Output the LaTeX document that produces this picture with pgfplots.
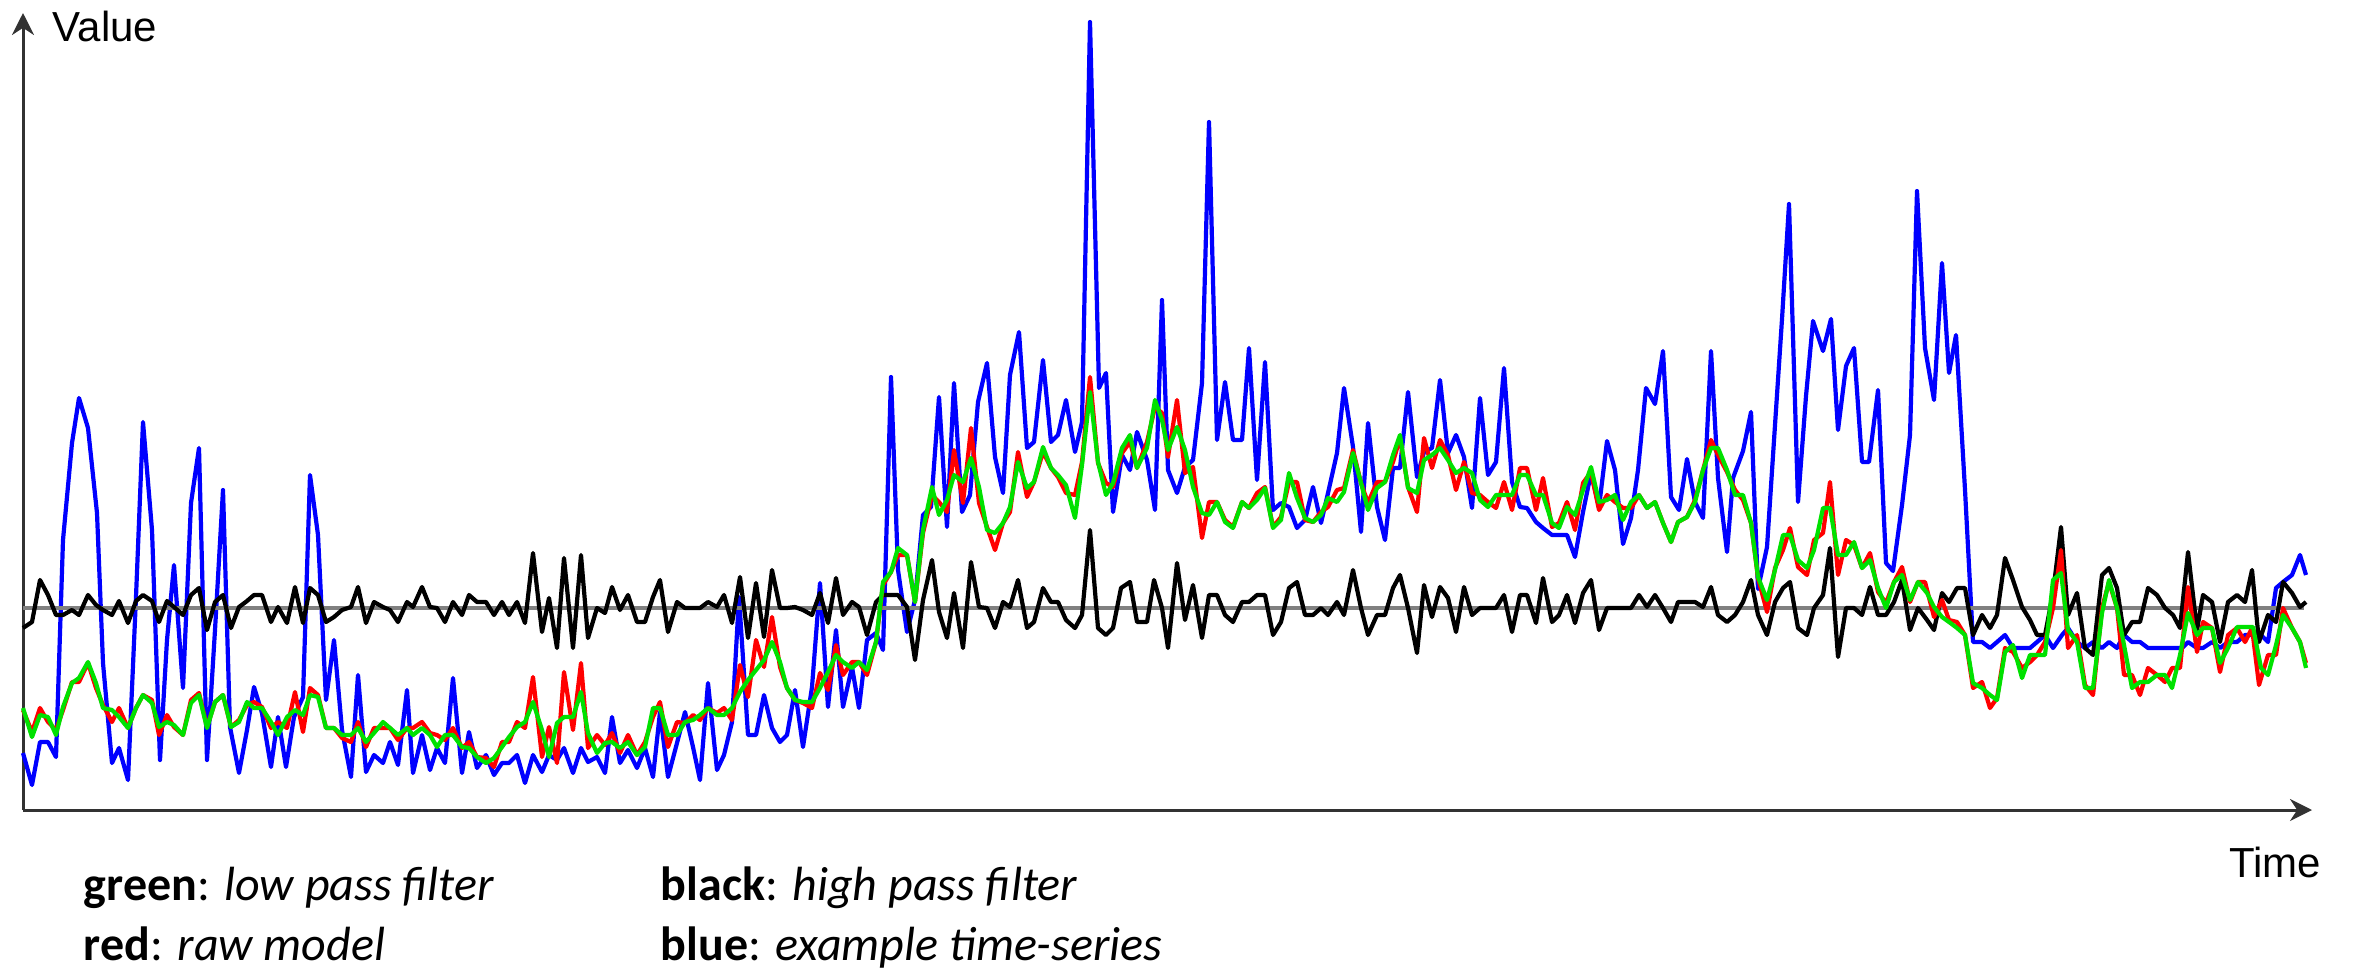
\documentclass[border=0pt]{standalone}
\usepackage{pgfplots}
\pgfplotsset{compat=1.18}
\usepackage{fontspec}
\setmainfont{Carlito}
\newfontfamily\labelfont{Liberation Sans}
\usetikzlibrary{arrows.meta}
\definecolor{sblue}{RGB}{0,0,255}
\definecolor{sred}{RGB}{255,0,0}
\definecolor{sgreen}{RGB}{0,225,0}
\definecolor{sgray}{RGB}{128,128,128}
\definecolor{axgray}{RGB}{50,50,50}
\begin{document}
\begin{tikzpicture}[x=0.25pt,y=0.25pt]
\path (0,0) rectangle (2356,979);
\begin{axis}[at={(5.75pt,42.25pt)}, anchor=south west, x=0.25pt, y=0.25pt,
  xmin=23, xmax=2310, ymin=0, ymax=795, hide axis, clip=false,
  every axis plot/.append style={line width=1.05pt, line join=round, mark=none}]
\draw[axgray, line width=0.75pt, -{Stealth[length=5.5pt,width=5.5pt]}] (axis cs:23,0) -- (axis cs:23,797);
\draw[axgray, line width=0.75pt, -{Stealth[length=5.5pt,width=5.5pt]}] (axis cs:23,0) -- (axis cs:2312,0);
% blue: example time-series
\addplot[sblue] coordinates {
(23,57) (32,25) (40,68) (48,68) (56,53) (63,270) (72,367) (79,412) (88,382) (97,297) (103,147) (112,47) (119,62) (128,30) (136,213) (143,388) (152,280) (160,50) (167,170) (174,245) (183,122) (191,307) (199,362) (207,50) (215,180) (223,320) (230,83) (239,37) (247,80) (254,123) (262,97) (271,43) (278,93) (286,43) (294,93) (303,113) (310,335) (318,275) (326,110) (334,170) (342,80) (351,33) (358,135) (366,38) (374,55) (383,47) (390,68) (398,45) (407,120)
(413,37) (422,75) (430,40) (437,62) (445,47) (453,132) (462,37) (469,78) (477,42) (486,55) (494,35) (502,47) (509,47) (517,55) (525,27) (533,55) (542,38) (549,55) (557,50) (564,62) (573,37) (581,62) (588,48) (597,53) (605,37) (612,93) (620,47) (628,60) (637,42) (645,62) (653,33) (660,98) (668,33) (677,67) (685,98) (693,63) (700,30) (708,127) (717,40) (724,55) (732,88) (739,213) (748,75) (756,75) (764,115) (772,82) (780,68) (787,75)
(795,120) (803,63) (812,123) (820,227) (828,103) (836,180) (843,103) (852,143) (859,102) (867,170) (876,177) (883,160) (891,433) (898,240) (907,178) (915,210) (923,295) (931,303) (939,413) (947,283) (954,427) (962,298) (970,315) (978,408) (987,447) (995,353) (1003,317) (1010,435) (1019,478) (1027,362) (1034,368) (1043,450) (1051,368) (1058,375) (1066,410) (1075,358) (1082,388) (1090,788) (1099,422) (1106,437) (1113,298) (1122,355) (1130,340) (1137,378) (1147,350) (1155,300) (1162,510)
(1168,340) (1177,317) (1185,343) (1193,350) (1202,427) (1209,688) (1217,370) (1225,428) (1233,370) (1242,370) (1249,462) (1257,330) (1265,448) (1273,300) (1281,307) (1289,303) (1297,282) (1305,290) (1313,323) (1321,287) (1328,317) (1337,357) (1344,422) (1353,363) (1361,278) (1368,387) (1377,303) (1385,270) (1393,342) (1400,342) (1408,418) (1417,333) (1424,358) (1432,362) (1440,430) (1448,357) (1456,375) (1464,353) (1472,302) (1480,412) (1488,335) (1496,348) (1504,442) (1512,328) (1520,303) (1527,302) (1536,288)
(1543,282) (1552,275) (1559,275) (1567,275) (1575,253) (1583,298) (1591,337) (1599,303) (1607,369) (1615,340) (1623,266) (1631,292) (1638,340) (1646,422) (1655,406) (1663,459) (1671,313) (1679,300) (1687,351) (1695,308) (1703,292) (1711,459) (1718,332) (1727,258) (1733,332) (1743,359) (1751,398) (1758,221) (1767,263) (1775,385) (1782,491) (1789,606) (1798,308) (1806,414) (1813,489) (1823,459) (1831,491) (1838,380) (1846,444) (1854,462) (1862,348) (1869,348) (1878,420) (1886,247) (1893,239) (1902,305) (1910,375) (1917,619) (1925,462) (1934,410) (1942,547) (1949,437) (1956,475) (1965,320) (1973,168)
(1982,168) (1990,162) (1997,168) (2005,175) (2013,162) (2022,162) (2030,162) (2037,168) (2045,175) (2053,162) (2062,175) (2068,182) (2077,168) (2085,162) (2093,168) (2102,162) (2109,168) (2117,162) (2124,175) (2132,168) (2140,168) (2148,162) (2157,162) (2165,162) (2173,162) (2182,162) (2188,168) (2197,162) (2203,162) (2212,168) (2220,162) (2228,168) (2237,168) (2245,175) (2253,175) (2261,175) (2268,168) (2276,222) (2283,228) (2292,235) (2300,255) (2306,235)
};
% zero line
\addplot[sgray, line width=0.8pt] coordinates {(23,202) (2304,202)};
% black: high pass filter
\addplot[black] coordinates {
(23,182) (32,188) (40,230) (48,215) (56,195) (63,195) (72,200) (79,195) (88,215) (96,205) (103,200) (112,195) (119,209) (128,187) (136,209) (143,215) (152,209) (159,188) (167,209) (174,203) (183,195) (191,215) (199,222) (207,180) (215,208) (223,215) (231,182) (239,203) (247,209) (254,215) (262,215) (271,188) (278,203) (287,187) (295,223) (303,187) (310,222) (318,215) (326,188) (334,193) (342,200) (351,203) (358,223) (366,187) (374,208) (383,203) (390,200) (398,188) (407,208)
(413,203) (422,223) (430,203) (437,202) (445,188) (453,208) (462,195) (469,215) (477,208) (486,208) (494,195) (502,208) (509,195) (517,208) (525,187) (533,257) (542,178) (549,212) (557,162) (564,252) (573,162) (581,255) (588,172) (597,202) (605,197) (612,223) (620,200) (628,215) (637,188) (645,188) (653,213) (660,230) (668,178) (677,208) (685,202) (693,202) (700,202) (708,208) (717,203) (724,215) (732,187) (740,233) (748,172) (756,227) (764,173) (772,240) (780,202) (787,202)
(795,203) (803,200) (812,195) (820,217) (828,187) (836,232) (843,195) (852,208) (859,203) (867,175) (876,208) (883,215) (891,215) (898,215) (907,203) (915,150) (923,210) (932,250) (939,198) (947,172) (954,217) (963,162) (971,248) (979,203) (987,202) (995,182) (1003,208) (1010,203) (1018,230) (1027,182) (1034,188) (1043,222) (1051,208) (1058,208) (1066,190) (1075,182) (1082,195) (1090,280) (1098,182) (1106,175) (1113,182) (1121,222) (1130,228) (1137,188) (1147,188) (1154,230) (1162,202)
(1168,162) (1177,247) (1185,190) (1193,225) (1202,172) (1209,215) (1217,215) (1225,195) (1233,188) (1242,208) (1249,208) (1257,215) (1265,215) (1273,175) (1281,188) (1289,222) (1297,228) (1305,195) (1313,195) (1321,202) (1328,195) (1337,208) (1344,195) (1353,240) (1361,202) (1368,175) (1377,195) (1385,195) (1393,222) (1400,235) (1408,202) (1417,157) (1424,225) (1432,193) (1440,223) (1448,212) (1456,178) (1464,223) (1472,195) (1480,202) (1488,202) (1496,202) (1504,215) (1512,178) (1520,215) (1527,215) (1536,187)
(1543,232) (1552,188) (1559,195) (1567,215) (1575,187) (1583,217) (1591,230) (1599,180) (1607,202) (1615,202) (1623,202) (1631,202) (1639,215) (1647,203) (1655,215) (1663,202) (1671,188) (1678,208) (1687,208) (1695,208) (1703,203) (1711,223) (1718,195) (1727,188) (1735,195) (1743,208) (1751,230) (1758,195) (1767,175) (1775,208) (1783,222) (1790,228) (1798,182) (1807,175) (1814,202) (1823,215) (1830,262) (1838,153) (1846,202) (1854,202) (1862,195) (1870,223) (1878,195) (1886,195) (1894,208) (1902,230) (1910,180) (1918,202) (1927,190)
(1934,180) (1942,217) (1949,208) (1957,222) (1965,222) (1973,175) (1982,195) (1990,182) (1997,195) (2005,252) (2013,230) (2022,203) (2030,190) (2037,175) (2045,175) (2053,217) (2061,283) (2068,195) (2077,217) (2085,162) (2093,155) (2102,235) (2109,242) (2117,222) (2124,175) (2132,188) (2140,188) (2148,222) (2157,215) (2165,202) (2173,195) (2180,182) (2188,258) (2197,180) (2203,215) (2212,208) (2220,168) (2228,208) (2237,215) (2245,208) (2252,240) (2259,168) (2268,195) (2276,188) (2283,228) (2292,217) (2300,203) (2306,208)
};
% red: raw model
\addplot[sred] coordinates {
(23,100) (32,78) (40,102) (48,88) (56,80) (63,100) (72,128) (79,128) (88,147) (96,122) (103,105) (112,88) (119,102) (128,82) (136,102) (143,115) (152,110) (159,75) (167,95) (174,83) (183,75) (191,110) (199,117) (207,83) (215,108) (223,115) (231,83) (239,90) (247,105) (254,108) (262,103) (271,82) (278,88) (287,82) (295,118) (303,78) (310,122) (318,115) (326,82) (334,82) (342,72) (351,68) (358,88) (366,63) (374,82) (383,82) (390,82) (398,70) (407,82)
(413,82) (422,88) (430,77) (437,75) (445,70) (453,82) (462,62) (469,68) (477,53) (486,52) (494,43) (502,68) (509,68) (517,88) (525,82) (533,133) (542,53) (549,83) (557,47) (564,138) (573,80) (581,147) (588,62) (597,75) (605,65) (612,77) (620,57) (628,75) (637,55) (645,68) (653,93) (660,108) (668,63) (677,88) (685,87) (693,95) (700,90) (708,102) (717,97) (724,102) (732,90) (740,145) (748,113) (756,170) (764,143) (772,193) (780,143)
(787,122) (795,110) (803,107) (812,102) (820,137) (828,120) (836,165) (843,135) (852,148) (859,148) (867,135) (876,168) (883,225) (891,238) (898,255) (907,255) (915,208) (923,277) (932,315) (939,308) (947,298) (954,360) (963,307) (971,382) (979,307) (987,283) (995,260) (1003,287) (1010,298) (1018,358) (1027,313) (1034,328) (1043,358) (1051,342) (1058,333) (1066,317) (1075,315) (1082,348) (1090,433) (1098,347) (1106,327) (1113,323) (1122,357) (1130,368) (1137,342) (1147,368) (1155,403) (1162,397)
(1168,353) (1177,410) (1185,337) (1193,343) (1202,272) (1209,308) (1217,308) (1225,290) (1233,283) (1242,308) (1249,302) (1257,317) (1265,323) (1273,283) (1281,293) (1289,328) (1297,328) (1305,290) (1313,288) (1321,298) (1328,303) (1337,320) (1344,322) (1353,360) (1361,327) (1368,307) (1377,328) (1385,328) (1393,348) (1400,372) (1408,323) (1417,298) (1424,372) (1432,342) (1440,370) (1448,355) (1456,320) (1464,348) (1472,317) (1480,315) (1488,308) (1496,302) (1504,328) (1512,300) (1520,342) (1527,342) (1536,300)
(1543,332) (1552,283) (1559,287) (1567,308) (1575,280) (1583,327) (1591,338) (1599,300) (1607,315) (1615,308) (1623,302) (1631,302) (1639,315) (1647,302) (1655,308) (1663,287) (1671,268) (1678,288) (1687,293) (1695,310) (1703,340) (1711,370) (1718,355) (1727,338) (1735,320) (1743,310) (1751,287) (1758,232) (1767,198) (1775,242) (1783,260) (1790,282) (1798,243) (1807,235) (1814,270) (1823,277) (1830,328) (1838,235) (1846,270) (1854,265) (1862,242) (1870,257) (1878,218) (1886,207) (1894,228) (1902,243) (1910,208) (1918,228)
(1925,228) (1934,193) (1942,210) (1949,190) (1957,188) (1965,175) (1973,122) (1982,128) (1990,102) (1997,112) (2005,162) (2013,158) (2022,142) (2030,148) (2037,155) (2045,168) (2053,202) (2061,260) (2068,162) (2077,175) (2085,125) (2093,115) (2102,202) (2109,228) (2117,202) (2124,135) (2132,135) (2140,115) (2148,142) (2157,135) (2165,128) (2172,142) (2180,142) (2188,223) (2197,158) (2203,188) (2212,182) (2220,138) (2228,175) (2237,182) (2245,168) (2252,182) (2259,125) (2268,155) (2276,155) (2283,202) (2292,182) (2300,168) (2306,147)
};
% green: low pass filter
\addplot[sgreen] coordinates {
(23,102) (32,73) (40,95) (48,93) (56,75) (63,103) (72,127) (79,132) (88,148) (96,127) (103,102) (112,100) (119,93) (128,82) (136,102) (143,115) (152,107) (159,83) (167,88) (174,85) (183,75) (191,107) (199,115) (207,82) (215,108) (223,115) (231,83) (239,88) (247,108) (254,102) (262,102) (271,88) (278,75) (287,93) (295,100) (303,95) (310,115) (318,113) (326,82) (334,82) (342,75) (351,75) (358,82) (366,68) (374,77) (383,88) (390,82) (398,75) (407,82)
(413,75) (422,82) (430,75) (437,63) (445,75) (453,75) (462,63) (469,62) (477,53) (486,47) (494,52) (502,63) (509,73) (517,83) (525,88) (533,108) (542,80) (549,53) (557,87) (564,93) (573,93) (581,118) (588,77) (597,57) (605,67) (612,68) (620,62) (628,68) (637,55) (645,63) (653,102) (660,102) (668,75) (677,75) (685,88) (693,90) (700,95) (708,102) (717,95) (724,95) (732,102) (740,118) (748,130) (756,140) (764,150) (772,168) (780,148)
(787,122) (795,110) (803,108) (812,108) (820,122) (828,138) (836,155) (843,148) (852,142) (859,148) (867,140) (876,168) (883,228) (891,238) (898,262) (907,255) (915,208) (923,280) (932,323) (939,295) (947,310) (954,335) (963,328) (971,352) (979,323) (987,280) (995,277) (1003,287) (1010,303) (1018,348) (1027,322) (1034,328) (1043,363) (1051,342) (1058,335) (1066,325) (1075,292) (1082,345) (1090,418) (1098,348) (1106,315) (1113,327) (1122,362) (1130,375) (1137,342) (1147,362) (1155,410) (1162,390)
(1168,360) (1177,383) (1185,360) (1193,323) (1202,297) (1209,295) (1217,308) (1225,288) (1233,282) (1242,308) (1249,302) (1257,310) (1265,322) (1273,282) (1281,290) (1289,337) (1297,312) (1305,292) (1313,288) (1321,295) (1328,312) (1337,308) (1344,318) (1353,357) (1361,327) (1368,300) (1377,322) (1385,328) (1393,355) (1400,375) (1408,322) (1417,317) (1424,350) (1432,355) (1440,362) (1448,350) (1456,337) (1464,342) (1472,337) (1480,310) (1488,303) (1496,315) (1504,315) (1512,315) (1520,335) (1527,335) (1536,315)
(1543,315) (1552,287) (1559,282) (1567,303) (1575,295) (1583,320) (1591,343) (1599,308) (1607,310) (1615,315) (1623,290) (1631,308) (1639,315) (1647,302) (1655,308) (1663,287) (1671,268) (1678,288) (1687,293) (1695,308) (1703,340) (1711,362) (1718,362) (1727,340) (1735,315) (1743,315) (1751,287) (1758,233) (1767,210) (1775,240) (1783,275) (1790,275) (1798,250) (1807,242) (1814,260) (1823,302) (1830,302) (1838,255) (1846,255) (1854,268) (1862,242) (1870,250) (1878,222) (1886,202) (1894,228) (1902,235) (1910,210) (1918,228)
(1927,217) (1934,203) (1942,193) (1949,188) (1957,182) (1965,175) (1973,127) (1982,122) (1990,115) (1997,110) (2005,158) (2013,165) (2022,132) (2030,155) (2037,155) (2045,155) (2053,230) (2061,237) (2068,180) (2077,168) (2085,122) (2093,122) (2102,197) (2109,230) (2117,202) (2124,165) (2132,122) (2140,128) (2148,128) (2157,135) (2165,135) (2172,122) (2180,155) (2188,197) (2197,175) (2203,182) (2212,182) (2220,147) (2228,162) (2237,183) (2245,183) (2253,183) (2261,142) (2268,135) (2276,165) (2283,195) (2292,182) (2300,168) (2306,142)
};
\end{axis}
\node[anchor=base west, inner sep=0pt, font=\labelfont\fontsize{10.5}{12}\selectfont] at (52,938) {Value};
\node[anchor=base east, inner sep=0pt, font=\labelfont\fontsize{10.5}{12}\selectfont] at (2322,102) {Time};
\node[anchor=base west, inner sep=0pt, font=\fontsize{12}{14}\selectfont] at (83,79) {\textbf{green}: \textit{low pass filter}};
\node[anchor=base west, inner sep=0pt, font=\fontsize{12}{14}\selectfont] at (83,19) {\textbf{red}: \textit{raw model}};
\node[anchor=base west, inner sep=0pt, font=\fontsize{12}{14}\selectfont] at (660,79) {\textbf{black}: \textit{high pass filter}};
\node[anchor=base west, inner sep=0pt, font=\fontsize{12}{14}\selectfont] at (660,19) {\textbf{blue}: \textit{example time-series}};
\end{tikzpicture}
\end{document}
